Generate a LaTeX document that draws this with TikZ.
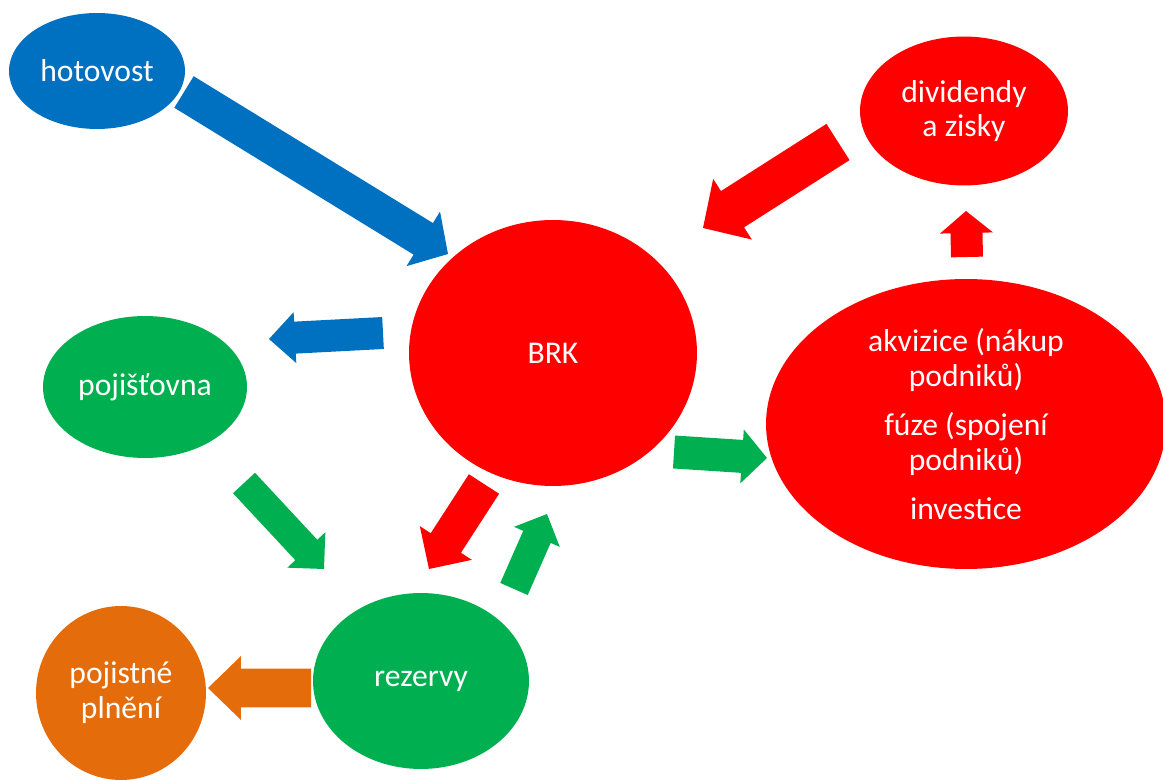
\documentclass[tikz,border=0pt]{standalone}
\usepackage{fontspec}
\setmainfont{Carlito}
\usepackage{tikz}
\usetikzlibrary{shapes.geometric, calc}

\definecolor{brkblue}{HTML}{0070C0}
\definecolor{brkred}{HTML}{FF0000}
\definecolor{brkgreen}{HTML}{00B050}
\definecolor{brkorange}{HTML}{E46C0A}

\tikzset{
  bubble/.style={ellipse, inner sep=0pt, text=white, align=center,
    font=\fontsize{18}{19.8}\selectfont},
}

% colour, tail, tip, half shaft, half head, head length
\newcommand{\blockarrow}[6]{%
  \coordinate (hb) at ($(#3)!#6!(#2)$);
  \fill[#1] ($(#2)!#4!90:(#3)$) -- ($(hb)!#4!90:(#3)$) -- ($(hb)!#5!90:(#3)$)
    -- (#3) -- ($(hb)!#5!-90:(#3)$) -- ($(hb)!#4!-90:(#3)$)
    -- ($(#2)!#4!-90:(#3)$) -- cycle;
}

\begin{document}
\begin{tikzpicture}[x=0.02cm, y=-0.02cm]
    \useasboundingbox (0,0) rectangle (1163,780);

    \node[bubble, fill=brkblue, minimum width=3.52cm, minimum height=2.32cm] (hotovost) at (97,71) {hotovost};
    \node[bubble, fill=brkred, minimum width=4.16cm, minimum height=2.98cm] (dividendy) at (964,111) {dividendy\\a zisky};
    \node[bubble, fill=brkred, minimum width=5.76cm, minimum height=5.32cm] (brk) at (553,353) {BRK};
    \node[bubble, fill=brkred, minimum width=8cm, minimum height=5.8cm] (akvizice) at (966,424)
      {akvizice (nákup\\podniků)\\[8pt]fúze (spojení\\podniků)\\[8pt]investice};
    \node[bubble, fill=brkgreen, minimum width=4.08cm, minimum height=2.84cm] (pojistovna) at (145,387) {pojišťovna};
    \node[bubble, fill=brkgreen, minimum width=4.32cm, minimum height=3.52cm] (rezervy) at (421,681) {rezervy};
    \node[bubble, fill=brkorange, minimum width=3.4cm, minimum height=3.48cm] (plneni) at (121,693) {pojistné\\plnění};

    % arrow ends
    \coordinate (hot-out) at (184,92);
    \coordinate (brk-in) at (448,254);
    \coordinate (brk-left) at (383,333);
    \coordinate (poj-in) at (269,339);
    \coordinate (div-out) at (838,142);
    \coordinate (brk-top) at (703,228);
    \coordinate (akv-up) at (967,257);
    \coordinate (div-in) at (966,211);
    \coordinate (brk-right) at (674,452);
    \coordinate (akv-in) at (767,458);
    \coordinate (poj-out) at (244,483);
    \coordinate (rez-in) at (324,569);
    \coordinate (brk-down) at (484,484);
    \coordinate (rez-top) at (429,569);
    \coordinate (rez-out) at (514,589);
    \coordinate (brk-low) at (547,514);
    \coordinate (rez-left) at (311,688);
    \coordinate (pln-in) at (208,688);

    \foreach \from/\to/\col/\shaft/\head/\len in {
      hot-out/brk-in/brkblue/0.37/0.64/0.58,
      brk-left/poj-in/brkblue/0.32/0.51/0.52,
      div-out/brk-top/brkred/0.43/0.72/0.70,
      akv-up/div-in/brkred/0.32/0.53/0.44,
      brk-right/akv-in/brkgreen/0.33/0.54/0.50,
      poj-out/rez-in/brkgreen/0.30/0.52/0.52,
      brk-down/rez-top/brkred/0.36/0.62/0.62,
      rez-out/brk-low/brkgreen/0.30/0.50/0.50,
      rez-left/pln-in/brkorange/0.39/0.64/0.66
    }
    \blockarrow{\col}{\from}{\to}{\shaft cm}{\head cm}{\len cm};
\end{tikzpicture}
\end{document}
